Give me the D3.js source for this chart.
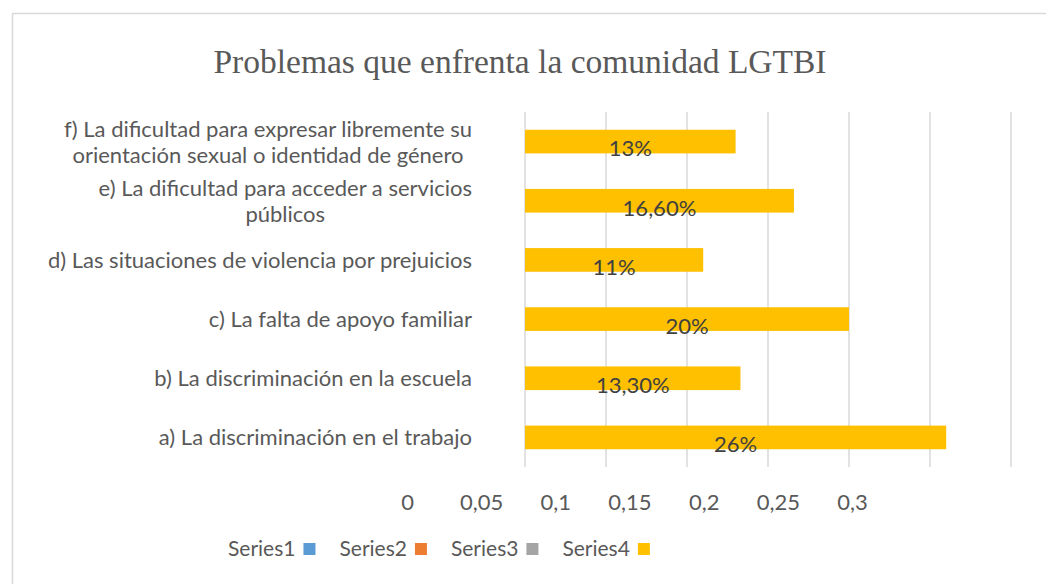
<!DOCTYPE html>
<html>
<head>
<meta charset="utf-8">
<script src="https://cdn.jsdelivr.net/npm/d3@7"></script>
<style>
	body { margin: 0; background: #fff; }
	svg { display: block; font-family: Lato, "Open Sans", sans-serif; }
</style>
</head>
<body>
<svg id="chart" width="1046" height="584"></svg>
<script>
// data, bottom to top as in the picture
const categories = [
	["a) La discriminación en el trabajo"],
	["b) La discriminación en la escuela"],
	["c) La falta de apoyo familiar"],
	["d) Las situaciones de violencia por prejuicios"],
	["e) La dificultad para acceder a servicios", "públicos"],
	["f) La dificultad para expresar libremente su", "orientación sexual o identidad de género"]
];
const values = [0.26, 0.133, 0.20, 0.11, 0.166, 0.13];
const valueLabels = ["26%", "13,30%", "20%", "11%", "16,60%", "13%"];
const tickValues = [0, 0.05, 0.1, 0.15, 0.2, 0.25, 0.3];
const tickLabels = ["0", "0,05", "0,1", "0,15", "0,2", "0,25", "0,3"];
const seriesNames = ["Series1", "Series2", "Series3", "Series4"];
const seriesColors = ["#5b9bd5", "#ed7d31", "#a5a5a5", "#ffc000"];

const TITLE = "Problemas que enfrenta la comunidad LGTBI";
const TEXT_COLOR = "#595959";
const GRID_COLOR = "#d9d9d9";
const PLOT_TOP = 112, PLOT_BOTTOM = 467;

let svg = d3.select("svg#chart");

// chart frame
svg.append("rect")
	.attr("x", 12.5)
	.attr("y", 13.5)
	.attr("width", 1100)
	.attr("height", 700)
	.attr("fill", "none")
	.attr("stroke", GRID_COLOR)
	.attr("stroke-width", 1.5)
	;

svg.append("text")
	.text(TITLE)
	.attr("x", 520)
	.attr("y", 73)
	.attr("text-anchor", "middle")
	.attr("fill", TEXT_COLOR)
	.style("font-family", "'Liberation Serif', 'Times New Roman', serif")
	.style("font-size", "33.5px")
	;

let x = d3.scaleLinear().domain([0, 0.3]).range([525, 1011]);
// the tick labels in the picture sit on their own, narrower spacing
let xLabel = d3.scaleLinear().domain([0, 0.3]).range([407, 852]);

let idx = d3.range(categories.length);
let y = d3.scaleBand()
	.domain(idx.slice().reverse())
	.range([PLOT_TOP, PLOT_BOTTOM])
	.paddingInner(0.6)
	.paddingOuter(0.3)
	;

// gridlines
svg.append("g")
	.selectAll("line")
	.data(tickValues)
	.join("line")
	.attr("x1", d => x(d))
	.attr("x2", d => x(d))
	.attr("y1", PLOT_TOP)
	.attr("y2", PLOT_BOTTOM)
	.attr("stroke", GRID_COLOR)
	.attr("stroke-width", 1.5)
	;

// tick labels
let xAxis = svg.append("g")
	.attr("transform", "translate(0," + 491 + ")")
	.call(d3.axisBottom(xLabel)
		.tickValues(tickValues)
		.tickFormat((d, i) => tickLabels[i])
		.tickSize(0))
	;
xAxis.select(".domain").remove();
xAxis.selectAll("text")
	.attr("fill", TEXT_COLOR)
	.style("font-size", "22px")
	.style("font-family", "Lato, sans-serif")
	;

// bars
svg.append("g")
	.selectAll("rect")
	.data(idx)
	.join("rect")
	.attr("x", x(0))
	.attr("y", i => y(i))
	.attr("width", i => x(values[i]) - x(0))
	.attr("height", y.bandwidth())
	.attr("fill", seriesColors[3])
	;

// value labels
svg.append("g")
	.selectAll("text")
	.data(idx)
	.join("text")
	.text(i => valueLabels[i])
	.attr("x", i => (x(0) + x(values[i])) / 2)
	.attr("y", i => y(i) + y.bandwidth() + 3)
	.attr("text-anchor", "middle")
	.attr("fill", "#404040")
	.style("font-size", "22px")
	;

// category labels: block right-aligned, wrapped lines centred within it
const LABEL_RIGHT = 472, LINE_H = 26;
let catG = svg.append("g")
	.style("font-size", "22px")
	.attr("fill", TEXT_COLOR)
	;
idx.forEach(i => {
	let lines = categories[i];
	let g = catG.append("g");
	let texts = g.selectAll("text")
		.data(lines)
		.join("text")
		.text(d => d)
		.attr("text-anchor", "middle")
		.attr("y", (d, k) => y(i) + y.bandwidth() / 2 + (k - (lines.length - 1) / 2) * LINE_H + 8)
		;
	let w = d3.max(texts.nodes(), n => n.getComputedTextLength());
	texts.attr("x", LABEL_RIGHT - w / 2);
});

// legend: name followed by its swatch
let legend = svg.append("g")
	.style("font-size", "21px")
	.attr("fill", TEXT_COLOR)
	;
let lx = 228;
seriesNames.forEach((name, i) => {
	let t = legend.append("text")
		.text(name)
		.attr("x", lx)
		.attr("y", 556)
		;
	let w = t.node().getComputedTextLength();
	legend.append("rect")
		.attr("x", lx + w + 8)
		.attr("y", 543)
		.attr("width", 12)
		.attr("height", 12)
		.attr("fill", seriesColors[i])
		;
	lx += w + 8 + 12 + 24;
});
</script>
</body>
</html>
